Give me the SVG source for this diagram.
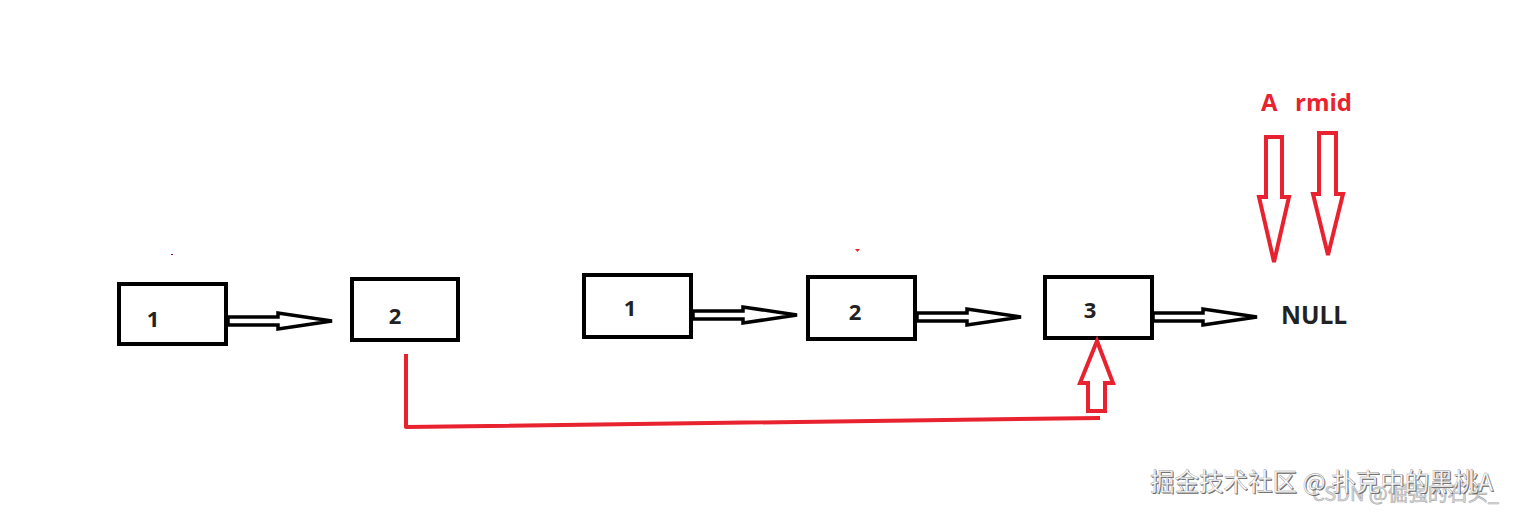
<svg xmlns="http://www.w3.org/2000/svg" width="1518" height="512" viewBox="0 0 1518 512">
<style>
.box{fill:#fff;stroke:#000;stroke-width:4}
.num{font-family:"Open Sans","Liberation Sans",sans-serif;font-weight:bold;font-size:22px;fill:#222;text-anchor:middle;dominant-baseline:central}
.lbl{font-family:"Open Sans","Liberation Sans",sans-serif;font-weight:bold;font-size:24px;fill:#e8222e}
.blk{fill:#fff;stroke:#000;stroke-width:3.5;stroke-linejoin:miter}
.red{fill:#fff;stroke:#e8222e;stroke-width:4}
.redline{fill:none;stroke:#e8222e;stroke-width:4;stroke-linejoin:round}
.wm{font-family:"Noto Sans CJK SC","Liberation Sans",sans-serif;font-size:24.5px}
</style>
<defs>
<path id="harrow" d="M0,-4 L50,-4 L50,-8 L104,0 L50,8 L50,4 L0,4 Z"/>
</defs>
<rect width="1518" height="512" fill="#fff"/>
<g id="node-l1"><rect class="box" x="119" y="284" width="107" height="60"/><text class="num" x="153" y="318">1</text></g>
<g id="node-l2"><rect class="box" x="352" y="279" width="106" height="61"/><text class="num" x="395" y="315">2</text></g>
<g id="node-m1"><rect class="box" x="584" y="275" width="107" height="62"/><text class="num" x="630" y="307">1</text></g>
<g id="node-m2"><rect class="box" x="808" y="277" width="107" height="62"/><text class="num" x="855" y="311">2</text></g>
<g id="node-m3"><rect class="box" x="1045" y="277" width="107" height="61"/><text class="num" x="1090" y="309">3</text></g>
<g id="node-null"><text x="1281" y="324" style="font-family:'Open Sans','Liberation Sans',sans-serif;font-weight:bold;font-size:24.5px;fill:#222">NULL</text></g>
<g id="node-labels"><text class="lbl" x="1261" y="111">A</text><text class="lbl" x="1295" y="111">rmid</text></g>
<g id="connectors">
<use href="#harrow" class="blk" transform="translate(228,321)"/>
<use href="#harrow" class="blk" transform="translate(693,315)"/>
<use href="#harrow" class="blk" transform="translate(917,317)"/>
<use href="#harrow" class="blk" transform="translate(1153,317)"/>
<path class="red" d="M1266,137 H1282 V197 H1289 L1274,262 L1259,197 H1266 Z"/>
<path class="red" d="M1319,133 H1336 V194 H1343 L1328,255 L1313,194 H1319 Z"/>
<path class="redline" d="M406,354 V427 L1100,418"/>
<path class="red" d="M1097,341 L1113,383 H1105 V411 H1088 V383 H1080 Z"/>
</g>
<rect x="171" y="254" width="2" height="1" fill="#b05"/>
<path d="M855,249 L860,249 L857.5,252 Z" fill="#e8222e"/>
<g id="watermark">
<text class="wm" x="1312" y="501" style="font-size:20px;fill:#ddd;stroke:#aaa;stroke-width:0.6">CSDN @倔强的石头_</text>
<text class="wm" x="1151" y="492" fill="#666">掘金技术社区 @ 扑克中的黑桃A</text>
<text class="wm" x="1150" y="491" fill="#fff" stroke="#999" stroke-width="0.4">掘金技术社区 @ 扑克中的黑桃A</text>
</g>
</svg>
